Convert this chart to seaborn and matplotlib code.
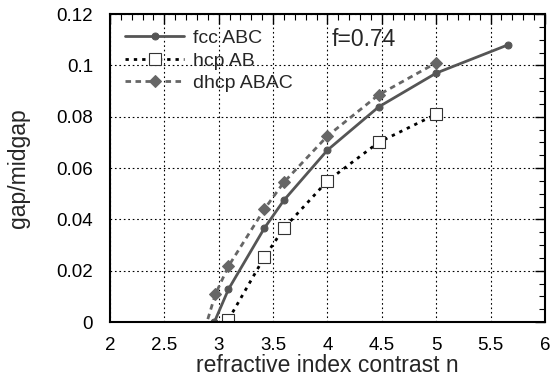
import matplotlib
matplotlib.use("Agg")
import matplotlib.pyplot as plt
import seaborn as sns
import numpy as np
import pandas as pd
from matplotlib.ticker import MultipleLocator

sns.set_style("white")
plt.rcParams['font.family'] = ['Liberation Sans', 'DejaVu Sans']

fcc_n = [2.96, 3.09, 3.42, 3.60, 4.00, 4.47, 5.00, 5.66]
fcc_gap = [0.0, 0.0128, 0.0366, 0.0475, 0.0670, 0.0838, 0.0970, 0.1080]

hcp_n = [3.09, 3.42, 3.60, 4.00, 4.47, 5.00]
hcp_gap = [0.0010, 0.0253, 0.0366, 0.0550, 0.0700, 0.0810]

dhcp_n = [2.82, 2.97, 3.09, 3.42, 3.60, 4.00, 4.47, 5.00]
dhcp_gap = [-0.010, 0.0109, 0.0218, 0.0440, 0.0545, 0.0725, 0.0885, 0.1010]

labels = ["fcc ABC", "hcp AB", "dhcp ABAC"]

fig = plt.figure(figsize=(5.55, 3.79), dpi=100)
ax = fig.add_axes([0.198, 0.150, 0.784, 0.813])

sns.lineplot(x=fcc_n, y=fcc_gap, ax=ax, color="#555555", lw=2.0, marker="o",
             markersize=5, markeredgecolor="#555555", sort=False, label=labels[0])
sns.lineplot(x=hcp_n, y=hcp_gap, ax=ax, color="black", lw=2.0, marker="s",
             markersize=9, markerfacecolor="white", markeredgecolor="#333333",
             markeredgewidth=0.8, sort=False, label=labels[1])
sns.lineplot(x=dhcp_n, y=dhcp_gap, ax=ax, color="#666666", lw=2.0, marker="D",
             markersize=6, markeredgecolor="#666666", sort=False, label=labels[2])

lines = ax.get_lines()
lines[1].set_dashes([1.2, 1.8])
lines[2].set_dashes([2.0, 1.6])

ax.set_xlim(2, 6)
ax.set_ylim(0, 0.12)
ax.xaxis.set_major_locator(MultipleLocator(0.5))
ax.xaxis.set_minor_locator(MultipleLocator(0.1))
ax.yaxis.set_major_locator(MultipleLocator(0.02))
ax.yaxis.set_minor_locator(MultipleLocator(0.005))
ax.set_xticks(np.arange(2, 6.01, 0.5))
ax.set_xticklabels(["2", "2.5", "3", "3.5", "4", "4.5", "5", "5.5", "6"])
ax.set_yticks(np.arange(0, 0.1201, 0.02))
ax.set_yticklabels(["0", "0.02", "0.04", "0.06", "0.08", "0.1", "0.12"])

ax.tick_params(which="both", direction="in", top=True, right=True, colors="black")
ax.tick_params(which="major", length=7, width=1.0, labelsize=13.5)
ax.tick_params(axis="y", which="major", pad=12)
ax.tick_params(axis="x", which="major", pad=11)
ax.tick_params(which="minor", length=4, width=0.8)
ax.grid(True, which="major", color="black", linestyle=(0, (1.5, 2.5)), lw=0.8)
for s in ax.spines.values():
    s.set_color("black")
    s.set_linewidth(1.5)

ax.set_xlabel("refractive index contrast n", fontsize=16.5, labelpad=0)
ax.set_ylabel("gap/midgap", fontsize=16.5, labelpad=19)

ax.text(4.04, 0.110, "f=0.74", fontsize=16.5, va="center", ha="left")

leg = ax.legend(loc="upper left", frameon=False, fontsize=14, handlelength=3.0,
                borderaxespad=0.4, labelspacing=0.25, handletextpad=0.45,
                bbox_to_anchor=(0.0, 1.0))
for h in leg.get_lines():
    h.set_linewidth(2.0)

fig.savefig("out.png", dpi=100)
